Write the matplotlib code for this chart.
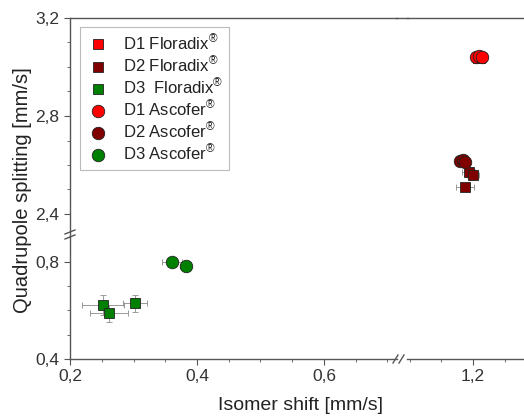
import matplotlib
matplotlib.use("Agg")
import matplotlib.pyplot as plt
from matplotlib.lines import Line2D
from matplotlib.ticker import FuncFormatter, MultipleLocator

plt.rcParams["font.family"] = ["Liberation Sans", "DejaVu Sans"]
plt.rcParams["mathtext.fontset"] = "custom"
plt.rcParams["mathtext.rm"] = "Liberation Sans"

# --- data (isomer shift, quadrupole splitting, errors) ---
d1_flor_x = [1.208, 1.211]
d1_flor_y = [3.035, 3.037]
d1_flor_xerr = [0.006, 0.006]
d1_flor_yerr = [0.006, 0.006]

d2_flor_x = [1.193, 1.200, 1.187]
d2_flor_y = [2.573, 2.559, 2.509]
d2_flor_xerr = [0.010, 0.010, 0.014]
d2_flor_yerr = [0.010, 0.010, 0.012]

d3_flor_x = [0.2515, 0.262, 0.302]
d3_flor_y = [0.622, 0.588, 0.630]
d3_flor_xerr = [0.033, 0.030, 0.019]
d3_flor_yerr = [0.040, 0.035, 0.035]

d1_asc_x = [1.205, 1.210, 1.214]
d1_asc_y = [3.042, 3.045, 3.040]
d1_asc_xerr = [0.005, 0.005, 0.005]

d2_asc_x = [1.180, 1.184, 1.188]
d2_asc_y = [2.615, 2.622, 2.612]
d2_asc_xerr = [0.005, 0.005, 0.005]

d3_asc_x = [0.361, 0.382]
d3_asc_y = [0.800, 0.783]
d3_asc_xerr = [0.016, 0.008]

W, H = 524, 416
X0, XB1, XB2, XR = 70, 397, 407, 545
YT, YB, Y0 = 18, 236, 359
PX_X = 635.0
PX_Y = 245.0

SPINE = "#555555"
ERR = "#999999"


def fx(px):
    return px / W


def fy(py):
    return 1 - py / H


fig = plt.figure(figsize=(W / 100, H / 100), dpi=100)

ax_ul = fig.add_axes([fx(X0), fy(YB), fx(XB1 - X0), (YB - YT) / H])
ax_ur = fig.add_axes([fx(XB2), fy(YB), fx(XR - XB2), (YB - YT) / H])
ax_ll = fig.add_axes([fx(X0), fy(Y0), fx(XB1 - X0), (Y0 - YB) / H])
ax_lr = fig.add_axes([fx(XB2), fy(Y0), fx(XR - XB2), (Y0 - YB) / H])
axes = [ax_ul, ax_ur, ax_ll, ax_lr]

left_xlim = (0.2, 0.2 + (XB1 - X0) / PX_X)
right_xlim = (1.2 - (473 - XB2) / PX_X, 1.2 - (473 - XB2) / PX_X + (XR - XB2) / PX_X)
upper_ylim = (3.2 - (YB - YT) / PX_Y, 3.2)
lower_ylim = (0.4, 0.4 + (Y0 - YB) / 243.0)

comma = FuncFormatter(lambda v, _: f"{v:.1f}".replace(".", ","))

series = [
    (d1_flor_x, d1_flor_y, d1_flor_xerr, d1_flor_yerr, "s", "#FF0000", 7.5, "D1 Floradix$^{®}$"),
    (d2_flor_x, d2_flor_y, d2_flor_xerr, d2_flor_yerr, "s", "#800000", 7.5, "D2 Floradix$^{®}$"),
    (d3_flor_x, d3_flor_y, d3_flor_xerr, d3_flor_yerr, "s", "#008000", 7.5, "D3  Floradix$^{®}$"),
    (d1_asc_x, d1_asc_y, d1_asc_xerr, None, "o", "#FF0000", 9, "D1 Ascofer$^{®}$"),
    (d2_asc_x, d2_asc_y, d2_asc_xerr, None, "o", "#800000", 9, "D2 Ascofer$^{®}$"),
    (d3_asc_x, d3_asc_y, d3_asc_xerr, None, "o", "#008000", 9, "D3 Ascofer$^{®}$"),
]

for ax in axes:
    for xs, ys, xe, ye, m, c, ms, lab in series:
        ax.errorbar(xs, ys, xerr=xe, yerr=ye, fmt="none", ecolor=ERR,
                    elinewidth=0.7, capsize=2, capthick=0.7, zorder=2)
        ax.plot(xs, ys, linestyle="none", marker=m, markersize=ms,
                markerfacecolor=c, markeredgecolor="#222222",
                markeredgewidth=0.6, zorder=3)
    for s in ax.spines.values():
        s.set_color(SPINE)
        s.set_linewidth(1.0)
        s.set_visible(False)
    ax.tick_params(which="both", direction="out", color=SPINE,
                   labelsize=12.5, labelcolor="#333333")
    ax.tick_params(which="major", length=4)
    ax.tick_params(which="minor", length=2)
    ax.patch.set_alpha(0)

for ax in [ax_ul, ax_ll]:
    ax.set_xlim(*left_xlim)
    ax.spines["left"].set_visible(True)
for ax in [ax_ur, ax_lr]:
    ax.set_xlim(*right_xlim)
    ax.tick_params(axis="y", which="both", left=False, labelleft=False)
for ax in [ax_ul, ax_ur]:
    ax.set_ylim(*upper_ylim)
    ax.spines["top"].set_visible(True)
    ax.tick_params(axis="x", which="both", bottom=False, labelbottom=False)
    ax.yaxis.set_major_locator(MultipleLocator(0.4))
    ax.yaxis.set_minor_locator(MultipleLocator(0.1))
for ax in [ax_ll, ax_lr]:
    ax.set_ylim(*lower_ylim)
    ax.spines["bottom"].set_visible(True)
    ax.yaxis.set_major_locator(MultipleLocator(0.4))
    ax.yaxis.set_minor_locator(MultipleLocator(0.1))
for ax in axes:
    ax.xaxis.set_major_locator(MultipleLocator(0.2))
    ax.xaxis.set_minor_locator(MultipleLocator(0.05))
    ax.xaxis.set_major_formatter(comma)
    ax.yaxis.set_major_formatter(comma)

# top spine across the x gap
fig.add_artist(Line2D([fx(XB1 - 1), fx(XB2 + 1)], [fy(YT), fy(YT)],
                      color=SPINE, lw=1.0))

# break marks
for dx in (0, 6):
    xa = XB1 - 4 + dx
    fig.add_artist(Line2D([fx(xa), fx(xa + 5)], [fy(Y0 + 4), fy(Y0 - 4)],
                          color=SPINE, lw=1.0))
for dy in (0, 5):
    ya = YB - 4 + dy
    fig.add_artist(Line2D([fx(X0 - 5), fx(X0 + 5)], [fy(ya + 2), fy(ya - 2)],
                          color=SPINE, lw=1.0))

handles = [
    Line2D([0], [0], linestyle="none", marker=m, markersize=ms,
           markerfacecolor=c, markeredgecolor="#222222", markeredgewidth=0.6,
           label=lab)
    for _, _, _, _, m, c, ms, lab in series
]
leg = ax_ul.legend(handles=handles, loc="upper left",
                   bbox_to_anchor=(10 / (XB1 - X0), 1 - 9 / (YB - YT)),
                   borderaxespad=0, fontsize=12, labelspacing=0.1,
                   handletextpad=0.8, handlelength=1.45, borderpad=0.35,
                   fancybox=False, framealpha=1, edgecolor="#BBBBBB")
leg.get_frame().set_linewidth(0.8)
for t in leg.get_texts():
    t.set_color("#222222")

fig.text(fx(301), fy(406), "Isomer shift [mm/s]", ha="center", va="center",
         fontsize=14, color="#222222")
fig.text(fx(23), fy(190), "Quadrupole splitting [mm/s]", ha="center",
         va="center", rotation=90, fontsize=14.5, color="#222222")

fig.savefig("out.png", dpi=100)
